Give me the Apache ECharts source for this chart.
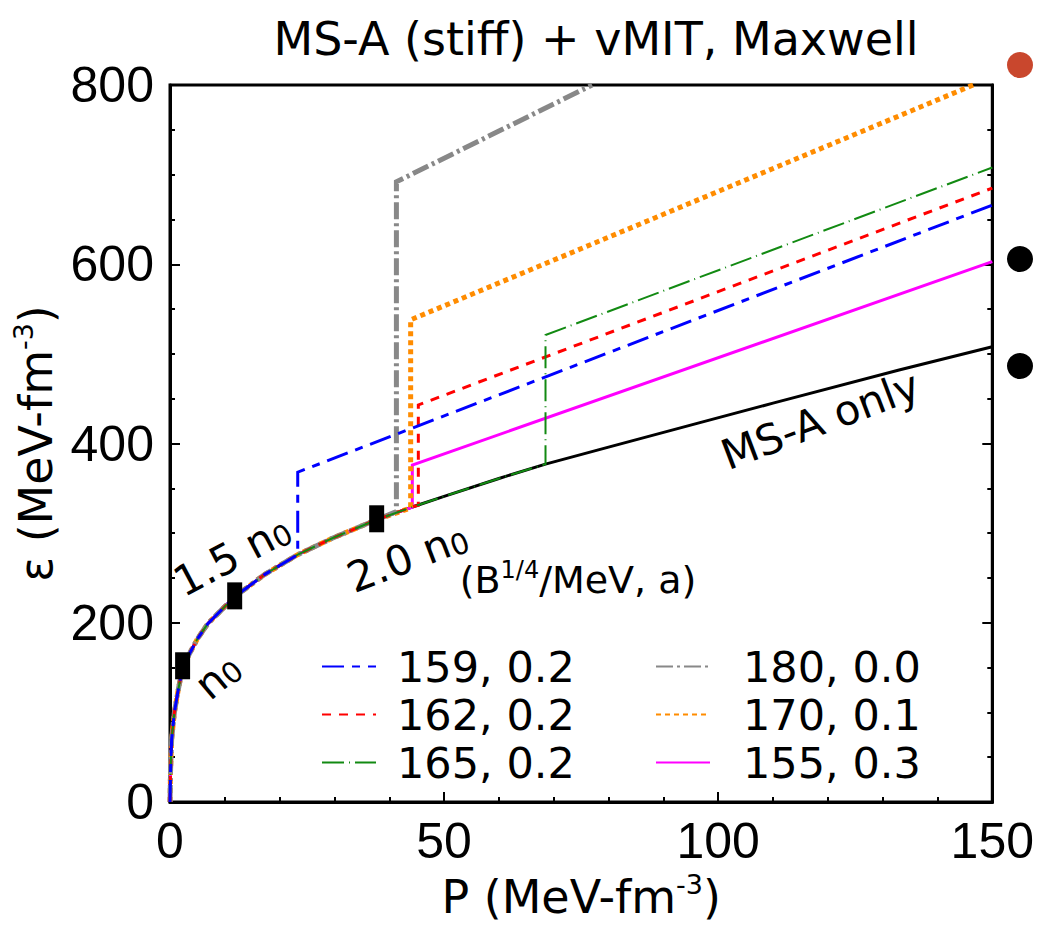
<!DOCTYPE html>
<html><head><meta charset="utf-8">
<script src="https://cdn.jsdelivr.net/npm/echarts@6/dist/echarts.min.js"></script>
<style>html,body{margin:0;padding:0;background:#fff}#c{width:1037px;height:938px}</style>
</head><body><div id="c"></div>
<script>
// ---- data (P in MeV/fm^3, epsilon in MeV/fm^3) ----
const msAOnly = [[0,0],[0.1,35],[0.3,70],[0.8,100],[1.5,125],[2.3,150],[3.6,166],[5,182],[6.9,199],[10,218],[11.8,229],[17.3,254],[23.3,276],[29.5,294],[37.7,315],[44.6,330],[50,341],[60,361],[68.5,377],[80,396],[96.5,423],[110,445],[133,482],[150,508]];
const hyb159 = [[0,0],[0.1,35],[0.3,70],[0.8,100],[1.5,125],[2.3,150],[3.6,166],[5,182],[6.9,199],[10,218],[11.8,229],[17.3,254],[23.3,276],[23.3,368],[150,666]];
const hyb162 = [[0,0],[0.1,35],[0.3,70],[0.8,100],[1.5,125],[2.3,150],[3.6,166],[5,182],[6.9,199],[10,218],[11.8,229],[17.3,254],[23.3,276],[29.5,294],[37.7,315],[44.6,330],[45.3,331],[45.3,443],[150,685]];
const hyb165 = [[0,0],[0.1,35],[0.3,70],[0.8,100],[1.5,125],[2.3,150],[3.6,166],[5,182],[6.9,199],[10,218],[11.8,229],[17.3,254],[23.3,276],[29.5,294],[37.7,315],[44.6,330],[50,341],[60,361],[68.5,377],[68.5,521],[150,708]];
const hyb180 = [[0,0],[0.1,35],[0.3,70],[0.8,100],[1.5,125],[2.3,150],[3.6,166],[5,182],[6.9,199],[10,218],[11.8,229],[17.3,254],[23.3,276],[29.5,294],[37.7,315],[41.3,324],[41.3,692],[77,800]];
const hyb170 = [[0,0],[0.1,35],[0.3,70],[0.8,100],[1.5,125],[2.3,150],[3.6,166],[5,182],[6.9,199],[10,218],[11.8,229],[17.3,254],[23.3,276],[29.5,294],[37.7,315],[43.9,328],[43.9,538],[146.5,800]];
const hyb155 = [[0,0],[0.1,35],[0.3,70],[0.8,100],[1.5,125],[2.3,150],[3.6,166],[5,182],[6.9,199],[10,218],[11.8,229],[17.3,254],[23.3,276],[29.5,294],[37.7,315],[44.2,329],[44.2,376],[150,603]];
const densityMarks = [[2.3,152],[11.8,230],[37.7,316]];
const annotations = [
  {text:'{n|n}{z|0}', P:8.5, e:142, rot:40},
  {text:'{n|1.5 n}{z|0}', P:11.2, e:277, rot:28},
  {text:'{n|2.0 n}{z|0}', P:43.2, e:275, rot:21},
  {text:'{n|MS-A only}', P:118.5, e:428, rot:20.7}
];
const xTicks = [0, 50, 100, 150];
const yTicks = [0, 200, 400, 600, 800];
const legendTitle = '{a|(B}{s|1/4}{a|/MeV, a)}';

const NUMFONT = '"Liberation Sans", Arial, sans-serif';
const FONT = '"DejaVu Sans", Verdana, sans-serif';
const chart = echarts.init(document.getElementById('c'), null, {renderer:'svg'});

function ln(name, data, color, width, type, z){
  return {name, type:'line', data, symbol:'none', showSymbol:false, z,
    lineStyle:{color, width, type, cap:'butt', join:'miter'}, itemStyle:{color}, animation:false};
}
const legText = {fontFamily:FONT, fontSize:43, color:'#000', lineHeight:40};

const option = {
  animation:false,
  backgroundColor:'#fff',
  title:{text:'MS-A (stiff) + vMIT, Maxwell', left:591, top:11, textAlign:'center',
    textStyle:{fontFamily:FONT, fontSize:46, fontWeight:'normal', color:'#000'}},
  grid:{left:170, right:43, top:85, bottom:136, show:true, borderColor:'#000', borderWidth:3},
  legend:[
    {orient:'vertical', left:316, top:640, itemWidth:54, itemHeight:12, itemGap:5, icon:'inherit',
     itemStyle:{opacity:0},
     data:['159, 0.2','162, 0.2','165, 0.2'],
     textStyle:Object.assign({padding:[0,0,0,16]}, legText)},
    {orient:'vertical', left:650, top:640, itemWidth:54, itemHeight:12, itemGap:5, icon:'inherit',
     itemStyle:{opacity:0},
     data:['180, 0.0','170, 0.1','155, 0.3'],
     textStyle:Object.assign({padding:[0,0,0,28]}, legText)}
  ],
  xAxis:{type:'value', min:0, max:150, interval:50,
    name:'{a|P (MeV-fm}{s|-3}{a|)}', nameLocation:'middle', nameGap:54,
    nameTextStyle:{fontFamily:FONT, color:'#000', rich:{a:{fontFamily:FONT, fontSize:46, lineHeight:52}, s:{fontFamily:FONT, fontSize:27, lineHeight:27, verticalAlign:'top'}}},
    axisLine:{show:true, lineStyle:{color:'#000', width:3}},
    axisTick:{show:true, inside:true, length:10, lineStyle:{color:'#000', width:2}},
    minorTick:{show:true, splitNumber:5, length:5, lineStyle:{color:'#000', width:2}},
    splitLine:{show:false},
    axisLabel:{fontFamily:NUMFONT, fontSize:50, color:'#000', margin:14,
      formatter:v=>xTicks.includes(v)?String(v):''}},
  yAxis:[
    {type:'value', min:0, max:800, interval:200,
     name:'{a|ε (MeV-fm}{s|-3}{a|)}', nameLocation:'middle', nameGap:108, nameRotate:90,
     nameTextStyle:{fontFamily:FONT, color:'#000', rich:{a:{fontFamily:FONT, fontSize:46, lineHeight:52}, s:{fontFamily:FONT, fontSize:27, lineHeight:27, verticalAlign:'top'}}},
     axisLine:{show:true, lineStyle:{color:'#000', width:3}},
     axisTick:{show:true, inside:true, length:10, lineStyle:{color:'#000', width:2}},
     minorTick:{show:true, splitNumber:4, length:5, lineStyle:{color:'#000', width:2}},
     splitLine:{show:false},
     axisLabel:{fontFamily:NUMFONT, fontSize:50, color:'#000', margin:16,
       formatter:v=>yTicks.includes(v)?String(v):''}},
    {type:'value', min:0, max:800, interval:200, position:'right',
     axisLine:{show:true, lineStyle:{color:'#000', width:3}},
     axisTick:{show:true, inside:true, length:10, lineStyle:{color:'#000', width:2}},
     minorTick:{show:true, splitNumber:4, length:5, lineStyle:{color:'#000', width:2}},
     splitLine:{show:false}, axisLabel:{show:false}}
  ],
  series:[
    ln('MS-A only', msAOnly, '#000000', 3, 'solid', 2),
    ln('155, 0.3', hyb155, '#ff00ff', 3, 'solid', 3),
    ln('170, 0.1', hyb170, '#ff8c00', 5, [5,4], 4),
    ln('180, 0.0', hyb180, '#888888', 5, [17,4,3,4], 5),
    ln('162, 0.2', hyb162, '#ff0000', 3, [9,8], 6),
    ln('165, 0.2', hyb165, '#128a12', 2, [22,5,1,5], 7),
    ln('159, 0.2', hyb159, '#0000ff', 3, [22,8,8,8], 8),
    {name:'density', type:'scatter', data:densityMarks, symbol:'rect', symbolSize:[15,27],
     itemStyle:{color:'#000', opacity:1}, z:10, animation:false}
  ]
};
chart.setOption(option);

// annotations positioned through the axes
const g = annotations.map(a=>{
  const p = chart.convertToPixel({gridIndex:0}, [a.P, a.e]);
  return {type:'text', x:p[0], y:p[1], rotation:a.rot*Math.PI/180, z:20,
    style:{text:a.text, fontFamily:FONT, fontSize:42, fill:'#000', align:'center', verticalAlign:'middle',
      rich:{n:{fontFamily:FONT, fontSize:42, lineHeight:46, verticalAlign:'bottom'},
            z:{fontFamily:FONT, fontSize:29, lineHeight:36, verticalAlign:'bottom'}}}};
});
g.push({type:'text', x:578, y:580, z:20,
  style:{text:legendTitle, fontFamily:FONT, fill:'#000', align:'center', verticalAlign:'middle',
    rich:{a:{fontFamily:FONT, fontSize:38, lineHeight:44}, s:{fontFamily:FONT, fontSize:24, lineHeight:24, verticalAlign:'top'}}}});
// decorative dots at right margin
g.push({type:'circle', shape:{cx:1020, cy:65, r:13}, style:{fill:'#c9472d'}});
g.push({type:'circle', shape:{cx:1020, cy:259, r:13}, style:{fill:'#000'}});
g.push({type:'circle', shape:{cx:1020, cy:366, r:13}, style:{fill:'#000'}});
chart.setOption({graphic:g});
</script></body></html>
